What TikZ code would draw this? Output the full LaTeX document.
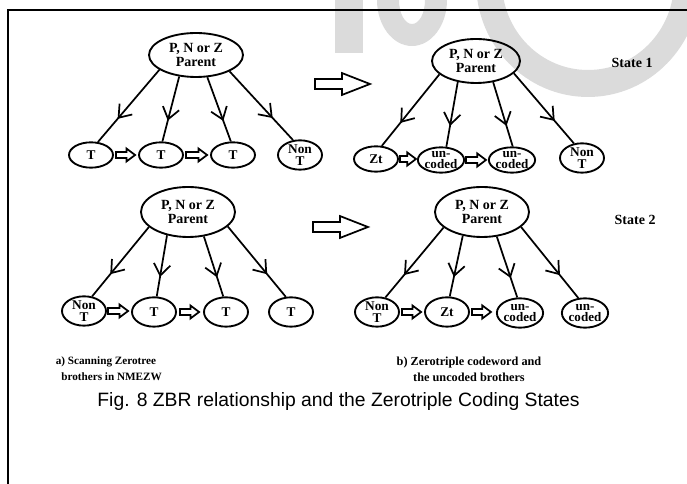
\documentclass[tikz,border=0pt]{standalone}
\usepackage{fontspec}
\setmainfont{Liberation Serif}
\setsansfont{Liberation Sans}
\usetikzlibrary{shapes.geometric,arrows.meta,decorations.markings,calc}

\definecolor{wmgray}{RGB}{219,219,219}

\tikzset{
  parentnode/.style={ellipse, draw, line width=1.4pt, inner sep=0pt,
    minimum width=70.5pt, minimum height=33pt, align=center,
    font=\bfseries\fontsize{10.5}{11.2}\selectfont},
  childnode/.style={ellipse, draw, line width=1.4pt, inner sep=0pt,
    minimum width=33pt, minimum height=19pt, align=center,
    font=\bfseries\fontsize{10}{9}\selectfont},
  tallchild/.style={childnode, minimum height=22pt},
  codedtext/.style={font=\bfseries\fontsize{9.8}{8.6}\selectfont},
  edge/.style={line width=1.3pt, postaction={decorate},
    decoration={markings, mark=at position 0.68 with
      {\arrow{Straight Barb[length=8.5pt,width=12.5pt]}}}},
  blockarrow/.style={draw, line width=1.3pt, fill=white, line join=miter},
  statelabel/.style={font=\bfseries\fontsize{10.5}{12}\selectfont},
  sublabel/.style={font=\bfseries\fontsize{8.4}{12}\selectfont, align=center},
}

% hollow block arrow from #1 to #2: shaft half-width, head half-width, head length
\newcommand{\blockarr}[5]{%
  \draw[blockarrow] let \p1=(#1), \p2=(#2) in
    (\x1,\y1+#3) -- (\x2-#5,\y1+#3) -- (\x2-#5,\y1+#4) -- (\x2,\y1)
    -- (\x2-#5,\y1-#4) -- (\x2-#5,\y1-#3) -- (\x1,\y1-#3) -- cycle;}

\begin{document}
\begin{tikzpicture}[x=0.75pt,y=-0.75pt]
\useasboundingbox (0,0) rectangle (687,484);

% faint background lettering along the top edge
\fill[wmgray] (335,0) rectangle (363,53);
\fill[wmgray] (377,0) arc[start angle=180, end angle=0, x radius=35, y radius=46]
  -- (425,0) arc[start angle=0, end angle=180, x radius=13, y radius=24] -- cycle;
\fill[wmgray, even odd rule] (588,-18) circle[x radius=112, y radius=115]
  (588,-18) circle[x radius=86, y radius=88];

% frame
\draw[line width=1.6pt] (8,484) -- (8,10) -- (687,10);

% ---------- tree a), state 1 ----------
\node[parentnode] (pa) at (196,55) {P, N or Z\\Parent};
\node[childnode] (a1) at (91,155) {T};
\node[childnode] (a2) at (161,155) {T};
\node[childnode] (a3) at (233,155) {T};
\node[tallchild] (a4) at (300,155) {Non\\T};
\draw[edge] (pa.202) -- (a1.62);
\draw[edge] (pa.232) -- (a2.84);
\draw[edge] (pa.297) -- (a3.99);
\draw[edge] (pa.334) -- (a4.115);
\coordinate (a12s) at ($(a1.east)+(2,0)$);  \coordinate (a12e) at ($(a2.west)+(-3,0)$);
\coordinate (a23s) at ($(a2.east)+(2,0)$);  \coordinate (a23e) at ($(a3.west)+(-3,0)$);
\blockarr{a12s}{a12e}{2.3pt}{4.9pt}{6.5pt}
\blockarr{a23s}{a23e}{2.3pt}{4.9pt}{6.5pt}

% ---------- tree b), state 1 ----------
\node[parentnode, minimum width=66pt] (pb) at (476,61) {P, N or Z\\Parent};
\node[childnode] (b1) at (376,159) {Zt};
\node[childnode, codedtext] (b2) at (441,160) {un-\\coded};
\node[childnode, codedtext] (b3) at (512,160) {un-\\coded};
\node[tallchild] (b4) at (582,158) {Non\\T};
\draw[edge] (pb.200) -- (b1.66);
\draw[edge] (pb.229) -- (b2.68);
\draw[edge] (pb.309) -- (b3.87);
\draw[edge] (pb.342) -- (b4.119);
\coordinate (b12s) at ($(b1.east)+(1,0)$);  \coordinate (b12e) at ($(b2.west)+(-1,0)$);
\coordinate (b23s) at ($(b2.east)+(1,0)$);  \coordinate (b23e) at ($(b3.west)+(-2,0)$);
\blockarr{b12s}{b12e}{2.3pt}{4.9pt}{6.5pt}
\blockarr{b23s}{b23e}{2.3pt}{4.9pt}{6.5pt}
\node[statelabel, anchor=west] (s1) at (607,63) {State 1};

% ---------- tree a), state 2 ----------
\node[parentnode, minimum height=37.5pt] (pc) at (188,212) {P, N or Z\\Parent};
\node[tallchild] (c1) at (84,311) {Non\\T};
\node[tallchild] (c2) at (154,312) {T};
\node[tallchild] (c3) at (226,312) {T};
\node[tallchild] (c4) at (291,312) {T};
\draw[edge] (pc.201) -- (c1.61);
\draw[edge] (pc.228) -- (c2.80);
\draw[edge] (pc.303) -- (c3.100);
\draw[edge] (pc.340) -- (c4.109);
\coordinate (c12s) at ($(c1.east)+(1,0)$);  \coordinate (c12e) at ($(c2.west)+(-3,0)$);
\coordinate (c23s) at ($(c2.east)+(3,0)$);  \coordinate (c23e) at ($(c3.west)+(-4,0)$);
\blockarr{c12s}{c12e}{2.3pt}{4.9pt}{6.5pt}
\blockarr{c23s}{c23e}{2.3pt}{4.9pt}{6.5pt}

% ---------- tree b), state 2 ----------
\node[parentnode, minimum height=37.5pt] (pd) at (482,212) {P, N or Z\\Parent};
\node[tallchild] (d1) at (377,312) {Non\\T};
\node[tallchild] (d2) at (447,312) {Zt};
\node[tallchild, codedtext] (d3) at (520,313) {un-\\coded};
\node[tallchild, codedtext] (d4) at (585,313) {un-\\coded};
\draw[edge] (pd.202) -- (d1.60);
\draw[edge] (pd.231) -- (d2.80);
\draw[edge] (pd.301) -- (d3.100);
\draw[edge] (pd.339) -- (d4.114);
\coordinate (d12s) at ($(d1.east)+(2,0)$);  \coordinate (d12e) at ($(d2.west)+(-3,0)$);
\coordinate (d23s) at ($(d2.east)+(2,0)$);  \coordinate (d23e) at ($(d3.west)+(-5,0)$);
\blockarr{d12s}{d12e}{2.3pt}{4.9pt}{6.5pt}
\blockarr{d23s}{d23e}{2.3pt}{4.9pt}{6.5pt}
\node[statelabel, anchor=west] (s2) at (610,220) {State 2};

% ---------- transitions between the two columns ----------
\coordinate (m1s) at (315,84); \coordinate (m1e) at (370,84);
\coordinate (m2s) at (313,227); \coordinate (m2e) at (368,227);
\blockarr{m1s}{m1e}{3.8pt}{8.2pt}{21pt}
\blockarr{m2s}{m2e}{3.8pt}{8.2pt}{21pt}

% ---------- sub-captions and caption ----------
\node[sublabel] (la) at (106,369) {a) Scanning Zerotree\\\hspace*{1em}brothers in NMEZW};
\node[sublabel, font=\bfseries\fontsize{9.2}{12}\selectfont] (lb) at (469,369)
  {b) Zerotriple codeword and\\the uncoded brothers};
\node[font=\sffamily\fontsize{14.5}{16}\selectfont] (cap) at (338.5,402)
  {Fig. 8 ZBR relationship and the Zerotriple Coding States};
\end{tikzpicture}
\end{document}
